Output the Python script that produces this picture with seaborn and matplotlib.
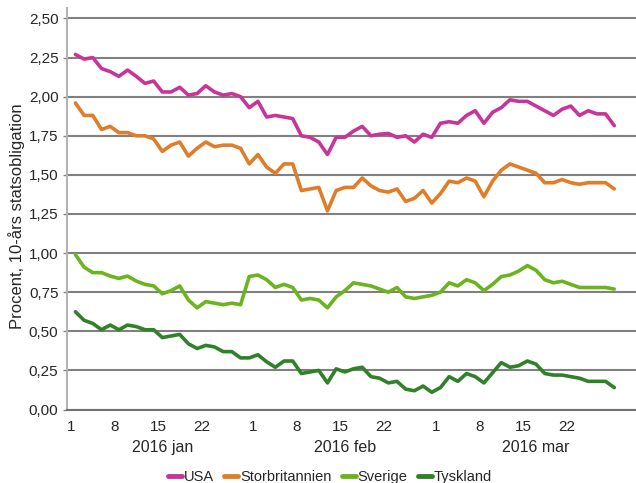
# Riksbank-style chart: 10-year government bond yields, Q1 2016
import numpy as np
import pandas as pd
import matplotlib
matplotlib.use('Agg')
import matplotlib.pyplot as plt
import matplotlib.transforms as mtransforms
from matplotlib.ticker import FuncFormatter
import seaborn as sns

# Business days Jan-Mar 2016 (x axis is a category axis of trading days)
dates = pd.bdate_range('2016-01-01', '2016-03-31')

usa = [2.27, 2.24, 2.25, 2.18, 2.16, 2.13, 2.17, 2.13, 2.085, 2.10,
       2.03, 2.03, 2.06, 2.01, 2.02, 2.07, 2.03, 2.01, 2.02, 2.00,
       1.93, 1.97, 1.87, 1.88, 1.87, 1.86, 1.75, 1.74, 1.71, 1.63,
       1.74, 1.74, 1.78, 1.81, 1.75, 1.76, 1.765, 1.74, 1.75, 1.71,
       1.76, 1.74, 1.83, 1.84, 1.83, 1.88, 1.91, 1.83, 1.90, 1.93,
       1.98, 1.97, 1.97, 1.94, 1.91, 1.88, 1.92, 1.94, 1.88, 1.91,
       1.89, 1.89, 1.815]
storbritannien = [1.96, 1.88, 1.88, 1.79, 1.81, 1.77, 1.77, 1.75, 1.75, 1.73,
                  1.65, 1.69, 1.71, 1.62, 1.67, 1.71, 1.68, 1.69, 1.69, 1.67,
                  1.57, 1.63, 1.55, 1.51, 1.57, 1.57, 1.40, 1.41, 1.42, 1.27,
                  1.40, 1.42, 1.42, 1.48, 1.43, 1.40, 1.39, 1.41, 1.33, 1.35,
                  1.40, 1.32, 1.38, 1.46, 1.45, 1.48, 1.46, 1.36, 1.46, 1.53,
                  1.57, 1.55, 1.53, 1.51, 1.45, 1.45, 1.47, 1.45, 1.44, 1.45,
                  1.45, 1.45, 1.41]
sverige = [0.99, 0.91, 0.875, 0.875, 0.853, 0.838, 0.853, 0.821, 0.80, 0.79,
           0.74, 0.76, 0.79, 0.70, 0.65, 0.69, 0.68, 0.67, 0.68, 0.67,
           0.85, 0.86, 0.83, 0.78, 0.80, 0.78, 0.70, 0.71, 0.70, 0.65,
           0.72, 0.76, 0.81, 0.80, 0.79, 0.77, 0.75, 0.78, 0.72, 0.71,
           0.72, 0.73, 0.75, 0.81, 0.79, 0.83, 0.81, 0.76, 0.80, 0.85,
           0.86, 0.885, 0.92, 0.89, 0.83, 0.81, 0.82, 0.80, 0.78, 0.78,
           0.78, 0.78, 0.77]
tyskland = [0.625, 0.57, 0.55, 0.51, 0.54, 0.51, 0.54, 0.53, 0.51, 0.51,
            0.46, 0.47, 0.48, 0.42, 0.39, 0.41, 0.40, 0.37, 0.37, 0.33,
            0.33, 0.35, 0.305, 0.27, 0.31, 0.31, 0.23, 0.24, 0.25, 0.17,
            0.26, 0.24, 0.26, 0.27, 0.21, 0.20, 0.17, 0.18, 0.13, 0.12,
            0.15, 0.11, 0.14, 0.21, 0.18, 0.23, 0.21, 0.17, 0.235, 0.30,
            0.27, 0.28, 0.31, 0.29, 0.23, 0.22, 0.22, 0.21, 0.20, 0.18,
            0.18, 0.18, 0.14]

series = {'USA': usa, 'Storbritannien': storbritannien,
          'Sverige': sverige, 'Tyskland': tyskland}
colors = ['#c8359a', '#e07d28', '#6cb41e', '#2f8228']
month_names = ['jan', 'feb', 'mar']
yticks = [0, 0.25, 0.5, 0.75, 1.0, 1.25, 1.5, 1.75, 2.0, 2.25, 2.5]

rows = []
for name, vals in series.items():
    for i, v in enumerate(vals):
        rows.append({'pos': i, 'land': name, 'varde': v})
df = pd.DataFrame(rows)

sns.set_style('white')
plt.rcParams['font.family'] = ['Liberation Sans', 'DejaVu Sans']

fig = plt.figure(figsize=(6.36, 4.83), dpi=100)
ax = fig.add_axes([67 / 636, 1 - 409.5 / 483, 1 - 67 / 636, (409.5 - 8.3) / 483])

sns.lineplot(data=df, x='pos', y='varde', hue='land', palette=colors,
             linewidth=2.6, ax=ax)

# axes limits and grid
ax.set_xlim(-0.97, 64.5)
ax.set_ylim(0, 2.565)
ax.set_yticks(yticks)
ax.yaxis.set_major_formatter(FuncFormatter(lambda v, p: f'{v:.2f}'.replace('.', ',')))
ax.set_axisbelow(True)
ax.yaxis.grid(True, color='#808080', linewidth=1.5)
ax.xaxis.grid(False)
for s in ['top', 'right']:
    ax.spines[s].set_visible(False)
ax.spines['left'].set_color('#b4b4b4')
ax.spines['left'].set_linewidth(1.5)
ax.spines['bottom'].set_color('#707070')
ax.spines['bottom'].set_linewidth(1.5)

# x ticks: month start = long tick, 8/15/22 = short tick
major_pos, minor_pos, minor_lab = [], [], []
for i, d in enumerate(dates):
    if d.day == 1:
        major_pos.append(i - 0.5)
    elif d.day in (8, 15, 22):
        minor_pos.append(i - 0.5)
        minor_lab.append(str(d.day))
ax.set_xticks(major_pos)
ax.set_xticklabels(['1'] * len(major_pos))
ax.set_xticks(minor_pos, minor=True)
ax.set_xticklabels(minor_lab, minor=True)
ax.tick_params(axis='x', which='major', direction='out', length=4.3, width=1,
               color='#404040', pad=3.5, labelsize=11)
ax.tick_params(axis='x', which='minor', direction='out', length=1.8, width=1,
               color='#404040', pad=6.0, labelsize=11)
ax.tick_params(axis='y', direction='out', length=3, width=1, color='#808080',
               pad=3.2, labelsize=11, left=True)
ax.set_xlabel('')
ax.set_ylabel('')

# month labels centred under each month
trans = mtransforms.blended_transform_factory(ax.transData, ax.transAxes)
for m, name in enumerate(month_names):
    idx = [i for i, d in enumerate(dates) if d.month == m + 1]
    centre = (idx[0] - 0.5 + idx[-1] + 0.5) / 2
    ax.text(centre, -0.095, f'2016 {name}', transform=trans, ha='center',
            va='center', fontsize=11.5)

fig.text(17 / 636, 1 - 216 / 483, 'Procent, 10-års statsobligation',
         rotation=90, ha='center', va='center', fontsize=12)

handles, labels = ax.get_legend_handles_labels()
ax.get_legend().remove()
leg = fig.legend(handles, labels, loc='center', bbox_to_anchor=(0.519, 0.0125),
                 ncol=4, frameon=False, fontsize=10.5, handlelength=0.96,
                 handletextpad=0.14, columnspacing=0.68)
for h in leg.get_lines():
    h.set_linewidth(3.5)

fig.savefig('out.png', dpi=100)
